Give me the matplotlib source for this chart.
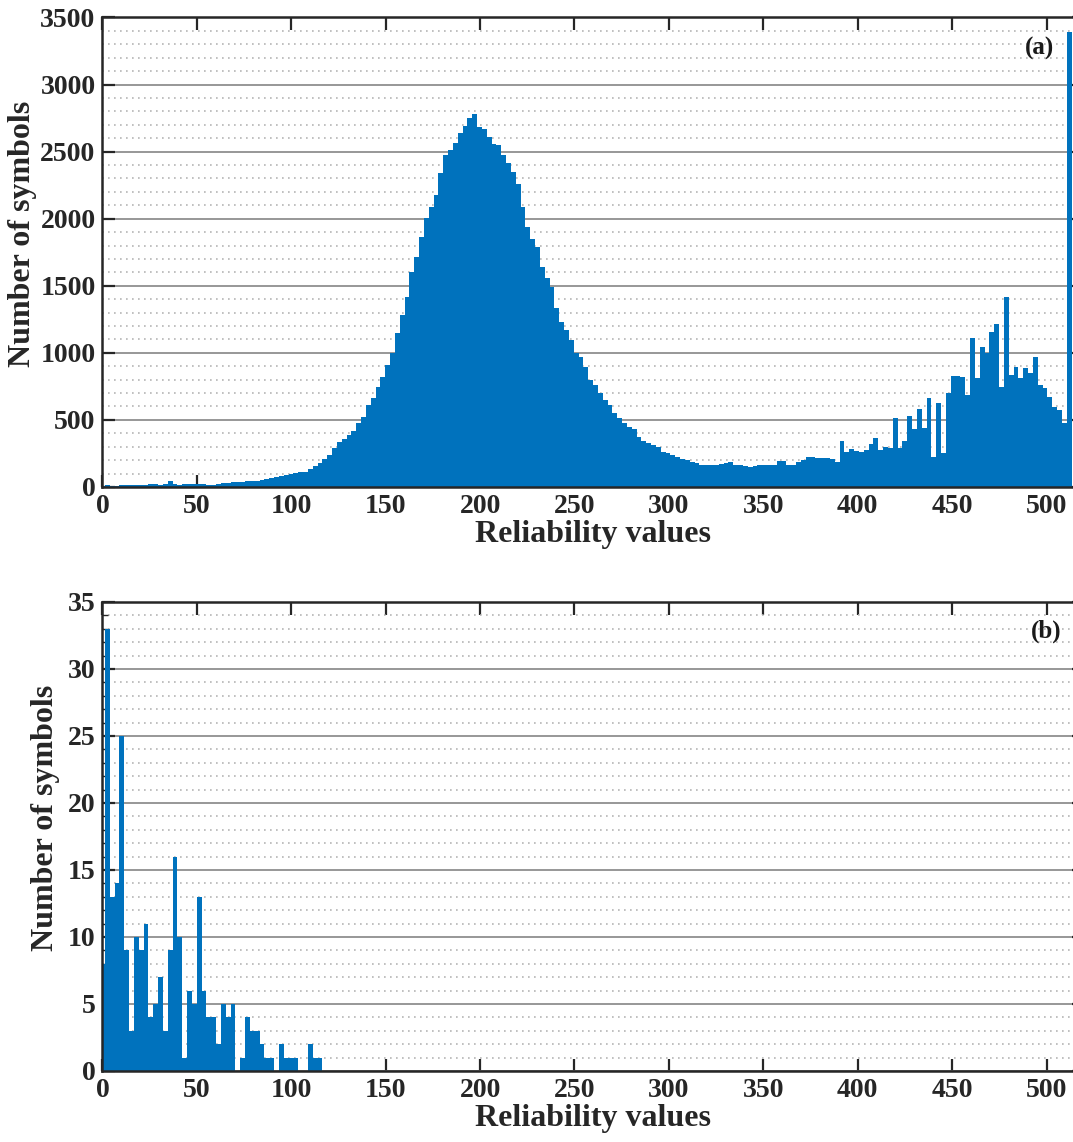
import matplotlib.pyplot as plt
from matplotlib.ticker import MultipleLocator
import numpy as np

plt.rcParams["font.family"] = ["Liberation Serif", "DejaVu Serif"]
plt.rcParams["font.weight"] = "bold"
plt.rcParams["axes.labelweight"] = "bold"

# histogram bins: centres every 2.56 reliability units (0 ... 512)
bin_width = 2.56

# (a) all symbols
counts_a = [
    10,
    12, 8, 10, 12, 14, 15, 13, 16, 18, 20,
    22, 18, 20, 45, 25, 18, 20, 22, 24, 20,
    22, 15, 18, 25, 28, 30, 38, 40, 38, 42,
    45, 48, 55, 62, 68, 75, 85, 92, 98, 102,
    108, 115, 132, 158, 178, 205, 240, 290, 337, 360,
    387, 420, 476, 524, 611, 661, 747, 822, 909, 996,
    1145, 1281, 1418, 1604, 1716, 1865, 2002, 2088, 2175, 2337,
    2473, 2511, 2561, 2640, 2690, 2747, 2779, 2684, 2672, 2610,
    2560, 2548, 2473, 2412, 2349, 2262, 2088, 1940, 1850, 1790,
    1641, 1560, 1492, 1331, 1230, 1170, 1095, 1000, 971, 896,
    797, 760, 700, 650, 610, 550, 515, 480, 450, 430,
    370, 345, 326, 315, 300, 260, 251, 235, 226, 205,
    198, 185, 178, 166, 164, 164, 165, 170, 180, 189,
    164, 164, 155, 152, 155, 164, 164, 166, 164, 190,
    196, 164, 166, 185, 201, 226, 222, 214, 214, 214,
    212, 189, 345, 263, 281, 270, 263, 276, 320, 363,
    276, 300, 290, 517, 288, 345, 529, 430, 579, 437,
    666, 224, 628, 251, 698, 827, 827, 820, 685, 1108,
    810, 1041, 1001, 1157, 1214, 747, 1418, 834, 892, 810,
    884, 847, 966, 760, 735, 673, 598, 574, 479, 3390,
]

# (b) erroneous symbols
counts_b = [
    8, 33, 13, 14, 25, 9, 3, 10, 9, 11,
    4, 5, 7, 3, 9, 16, 10, 1, 6, 5,
    13, 6, 4, 4, 2, 5, 4, 5, 0, 1,
    4, 3, 3, 2, 1, 1, 0, 2, 1, 1,
    1, 0, 0, 2, 1, 1, 0, 0, 0, 0,
    0, 0, 0, 0, 0, 0, 0, 0, 0, 0,
    0, 0, 0, 0, 0, 0, 0, 0, 0, 0,
    0, 0, 0, 0, 0, 0, 0, 0, 0, 0,
    0, 0, 0, 0, 0, 0, 0, 0, 0, 0,
    0, 0, 0, 0, 0, 0, 0, 0, 0, 0,
    0, 0, 0, 0, 0, 0, 0, 0, 0, 0,
    0, 0, 0, 0, 0, 0, 0, 0, 0, 0,
    0, 0, 0, 0, 0, 0, 0, 0, 0, 0,
    0, 0, 0, 0, 0, 0, 0, 0, 0, 0,
    0, 0, 0, 0, 0, 0, 0, 0, 0, 0,
    0, 0, 0, 0, 0, 0, 0, 0, 0, 0,
    0, 0, 0, 0, 0, 0, 0, 0, 0, 0,
    0, 0, 0, 0, 0, 0, 0, 0, 0, 0,
    0, 0, 0, 0, 0, 0, 0, 0, 0, 0,
    0, 0, 0, 0, 0, 0, 0, 0, 0, 0,
    0,
]

x_ticks = [0, 50, 100, 150, 200, 250, 300, 350, 400, 450, 500]
y_ticks_a = [0, 500, 1000, 1500, 2000, 2500, 3000, 3500]
y_ticks_b = [0, 5, 10, 15, 20, 25, 30, 35]
panel_tags = ["(a)", "(b)"]

bar_color = "#0072BD"

centers = np.arange(len(counts_a)) * bin_width
edges = np.append(centers - bin_width / 2, centers[-1] + bin_width / 2)

fig = plt.figure(figsize=(10.73, 11.42), dpi=100)
ax_a = fig.add_axes([0.0955, 0.5736, 0.915, 0.4111])
ax_b = fig.add_axes([0.0955, 0.0622, 0.915, 0.4107])

panels = [
    (ax_a, counts_a, y_ticks_a, 100, (504, 3270), -0.067),
    (ax_b, counts_b, y_ticks_b, 1, (508, 32.8), -0.043),
]

for i, (ax, counts, yt, minor_step, tag_pos, ylab_x) in enumerate(panels):
    ax.stairs(counts, edges, fill=True, color=bar_color, linewidth=0)
    ax.set_xlim(0, 520)
    ax.set_ylim(yt[0], yt[-1])
    ax.set_xticks(x_ticks)
    ax.set_yticks(yt)
    ax.yaxis.set_minor_locator(MultipleLocator(minor_step))
    ax.set_axisbelow(True)
    ax.yaxis.grid(True, which="major", color="#8f8f8f", linewidth=1.3)
    ax.yaxis.grid(True, which="minor", color="#b5b5b5", linewidth=1.2,
                  linestyle=(0, (1, 2.6)))
    ax.tick_params(which="major", direction="in", length=9, width=1.6,
                   top=True, right=True, labelsize=20, pad=5, colors="#262626")
    if i == 1:
        ax.tick_params(which="minor", direction="in", length=4, width=1.0,
                       left=True, right=True, colors="#262626")
    else:
        ax.tick_params(which="minor", length=0)
    for s in ax.spines.values():
        s.set_linewidth(1.8)
        s.set_color("#262626")
    ax.set_xlabel("Reliability values", fontsize=23, fontweight="bold",
                  labelpad=1, color="#262626")
    ax.set_ylabel("Number of symbols", fontsize=23, fontweight="bold",
                  color="#262626")
    ax.yaxis.set_label_coords(ylab_x, 0.54)
    ax.text(tag_pos[0], tag_pos[1], panel_tags[i], ha="right", va="center",
            fontsize=18, fontweight="bold", color="#1a1a1a")

fig.savefig("out.png", dpi=100)
